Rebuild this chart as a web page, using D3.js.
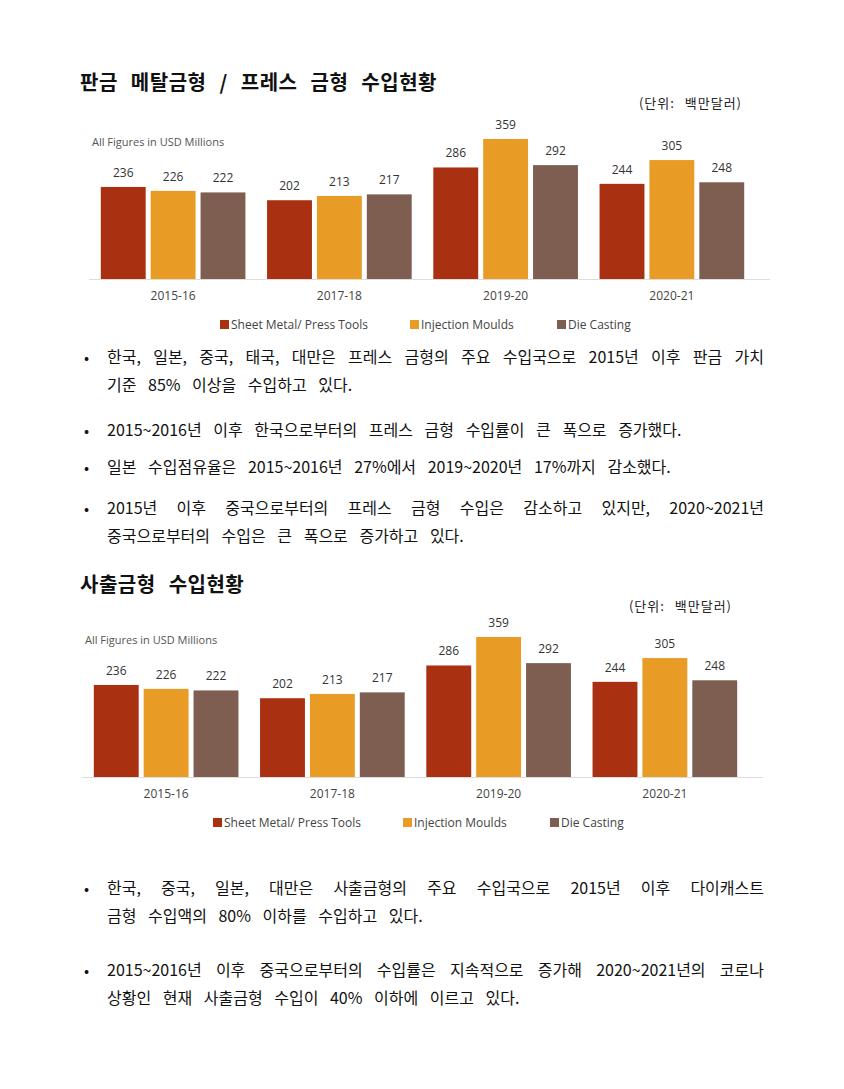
<!DOCTYPE html>
<html><head><meta charset="utf-8">
<script src="https://cdn.jsdelivr.net/npm/d3@7"></script>
<style>body{margin:0;background:#fff}</style>
</head><body>
<svg id="page" width="844" height="1089"></svg>
<script>
// data
var years = ["2015-16", "2017-18", "2019-20", "2020-21"];
var seriesNames = ["Sheet Metal/ Press Tools", "Injection Moulds", "Die Casting"];
var sheetMetal = [236, 202, 286, 244];
var injection = [226, 213, 359, 305];
var dieCasting = [222, 217, 292, 248];
var colors = ["#A93112", "#E89C26", "#7F5E52"];

var bullets1 = [
  ["한국, 일본, 중국, 태국, 대만은 프레스 금형의 주요 수입국으로 2015년 이후 판금 가치", "기준 85% 이상을 수입하고 있다."],
  ["2015~2016년 이후 한국으로부터의 프레스 금형 수입률이 큰 폭으로 증가했다."],
  ["일본 수입점유율은 2015~2016년 27%에서 2019~2020년 17%까지 감소했다."],
  ["2015년 이후 중국으로부터의 프레스 금형 수입은 감소하고 있지만, 2020~2021년", "중국으로부터의 수입은 큰 폭으로 증가하고 있다."]
];
var bullets2 = [
  ["한국, 중국, 일본, 대만은 사출금형의 주요 수입국으로 2015년 이후 다이캐스트", "금형 수입액의 80% 이하를 수입하고 있다."],
  ["2015~2016년 이후 중국으로부터의 수입률은 지속적으로 증가해 2020~2021년의 코로나", "상황인 현재 사출금형 수입이 40% 이하에 이르고 있다."]
];

var svg = d3.select("#page");
var serif = "'Noto Sans CJK KR', sans-serif";
var sans = "'Open Sans', Lato, sans-serif";

function heading(text, y, unitX, unitY) {
  svg.append("text").attr("x", 80).attr("y", y).attr("font-family", serif)
    .attr("font-size", 20).attr("font-weight", "bold").attr("fill", "#111")
    .attr("word-spacing", 8).attr("letter-spacing", 0.5).text(text);
  svg.append("text").attr("x", unitX).attr("y", unitY).attr("text-anchor", "end")
    .attr("font-family", serif).attr("font-size", 13).attr("fill", "#222")
    .attr("word-spacing", 6).attr("letter-spacing", 1).text("(단위: 백만달러)");
}

function chart(dx, base) {
  var g = svg.append("g").attr("transform", "translate(" + dx + "," + base + ")");
  var x0 = d3.scaleBand().domain(years).range([90, 755]).paddingInner(0.13).paddingOuter(0.065);
  var x1 = d3.scaleBand().domain(d3.range(3)).range([0, x0.bandwidth()]).paddingInner(0.1);
  var y = d3.scaleLinear().domain([0, 359]).range([0, -140]);
  var all = [sheetMetal, injection, dieCasting];

  g.append("text").attr("x", 92).attr("y", -133).attr("font-family", sans)
    .attr("font-size", 11).attr("fill", "#555").text("All Figures in USD Millions");

  years.forEach(function(yr, i) {
    all.forEach(function(s, k) {
      var bx = x0(yr) + x1(k);
      g.append("rect").attr("x", bx).attr("y", y(s[i])).attr("width", x1.bandwidth())
        .attr("height", -y(s[i])).attr("fill", colors[k]);
      g.append("text").attr("x", bx + x1.bandwidth() / 2).attr("y", y(s[i]) - 10)
        .attr("text-anchor", "middle").attr("font-family", sans).attr("font-size", 12)
        .attr("fill", "#333").text(s[i]);
    });
  });

  g.append("line").attr("x1", 89).attr("x2", 770).attr("y1", 0.5).attr("y2", 0.5)
    .attr("stroke", "#ddd");
  var ax = g.append("g").call(d3.axisBottom(x0).tickSize(0).tickPadding(12));
  ax.select(".domain").remove();
  ax.selectAll("text").attr("font-family", sans).attr("font-size", 12).attr("fill", "#444");

  var lx = [220, 410, 557];
  seriesNames.forEach(function(n, k) {
    g.append("rect").attr("x", lx[k]).attr("y", 41).attr("width", 9).attr("height", 9).attr("fill", colors[k]);
    g.append("text").attr("x", lx[k] + 11).attr("y", 50).attr("font-family", sans)
      .attr("font-size", 12).attr("fill", "#444").text(n);
  });
}

function bulletList(list, starts) {
  list.forEach(function(lines, i) {
    svg.append("text").attr("x", 84).attr("y", starts[i]).attr("font-family", serif)
      .attr("font-size", 15).attr("fill", "#111").text("•");
    lines.forEach(function(l, j) {
      var t = svg.append("text").attr("x", 107).attr("y", starts[i] + j * 28).attr("font-family", serif)
        .attr("font-size", 16).attr("fill", "#111").text(l);
      var spaces = l.split(" ").length - 1;
      var ws = 8;
      if (j == 0 && lines.length > 1) {
        var len = t.node().getComputedTextLength();
        ws = (657 - len) / spaces;
      }
      t.attr("word-spacing", ws);
    });
  });
}

heading("판금 메탈금형 / 프레스 금형 수입현황", 90, 742, 108);
chart(0, 279);
bulletList(bullets1, [363, 436, 473, 514]);

heading("사출금형 수입현황", 592, 732, 611);
chart(-7, 777);
bulletList(bullets2, [894, 976]);
</script>
</body></html>
